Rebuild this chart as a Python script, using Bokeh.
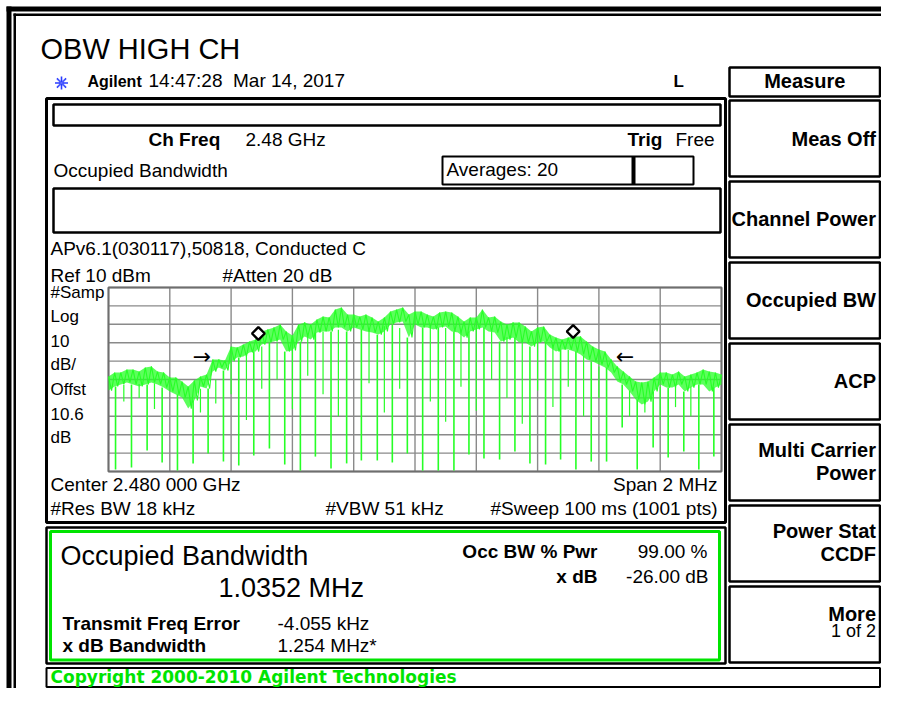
import numpy as np
from bokeh.plotting import figure
from bokeh.models import Range1d
from bokeh.core.properties import value
from bokeh.embed import file_html
from bokeh.resources import INLINE

CENTER_MHZ = 2480.0
SPAN_MHZ = 2.0
REF_DBM = 10.0
DB_PER_DIV = 10.0
N_DIV = 10

# sweep grid of the (decimated) trace, one value pair every 0.02 MHz
trace_freq_mhz = np.linspace(CENTER_MHZ - SPAN_MHZ / 2, CENTER_MHZ + SPAN_MHZ / 2, 101)
trace_hi_dbm = [
    -38.4, -36.2, -36.2, -34.6, -34.6, -35.7, -33.5, -32.9, -35.7, -36.2,
    -38.9, -38.9, -41.1, -43.8, -40.5, -38.4, -37.3, -29.1, -29.1, -29.7,
    -22.1, -22.6, -21.0, -19.4, -18.3, -13.9, -12.8, -11.7, -10.1, -13.9,
    -16.1, -10.1, -9.0, -10.1, -7.4, -5.8, -6.3, -2.0, -0.9, -4.7,
    -4.7, -5.8, -4.7, -6.3, -8.5, -6.3, -3.1, -2.0, -0.9, -4.7,
    -3.1, -3.1, -4.7, -5.8, -3.6, -3.1, -3.6, -5.8, -8.5, -6.3,
    -6.3, -2.0, -6.3, -5.8, -8.5, -10.1, -9.0, -9.0, -11.2, -13.9,
    -11.7, -11.2, -15.6, -17.2, -18.3, -17.2, -16.6, -16.6, -19.4, -22.1,
    -23.7, -24.8, -29.1, -32.9, -35.7, -38.4, -41.1, -41.6, -41.1, -38.9,
    -36.2, -36.2, -37.3, -35.7, -38.4, -37.3, -36.2, -34.6, -35.7, -36.2,
    -37.3]
trace_lo_dbm = [
    -46.0, -43.8, -42.7, -41.6, -42.7, -43.8, -42.7, -41.6, -42.7, -44.4,
    -46.5, -48.2, -49.8, -55.8, -51.4, -43.8, -44.9, -35.7, -33.5, -35.1,
    -30.2, -28.0, -27.5, -25.3, -24.8, -21.0, -19.9, -19.4, -18.3, -24.8,
    -24.2, -19.4, -16.6, -18.3, -14.5, -13.9, -13.9, -11.7, -11.7, -13.9,
    -11.7, -12.8, -13.9, -14.5, -15.6, -13.9, -10.1, -9.0, -8.5, -17.2,
    -10.1, -11.7, -11.7, -12.8, -11.7, -11.2, -13.9, -14.5, -17.2, -13.9,
    -12.8, -11.7, -13.9, -14.5, -19.4, -18.3, -17.2, -19.9, -19.9, -22.1,
    -19.9, -19.4, -22.6, -24.8, -23.7, -23.7, -24.8, -26.4, -29.1, -30.2,
    -31.9, -33.5, -36.2, -41.1, -42.7, -46.5, -50.9, -53.6, -52.0, -46.5,
    -42.7, -44.4, -44.4, -42.7, -46.5, -44.4, -42.7, -42.7, -46.5, -44.4,
    -42.7]

# deep notches of the trace
dip_freq_mhz = [
    2479.023, 2479.075, 2479.126, 2479.175, 2479.225, 2479.276, 2479.325, 2479.375, 2479.425, 2479.474,
    2479.525, 2479.575, 2479.626, 2479.675, 2479.726, 2479.777, 2479.825, 2479.877, 2479.926, 2479.975,
    2480.025, 2480.076, 2480.127, 2480.176, 2480.225, 2480.276, 2480.326, 2480.375, 2480.426, 2480.475,
    2480.525, 2480.575, 2480.625, 2480.676, 2480.725, 2480.777, 2480.826, 2480.877, 2480.926, 2480.975]
dip_top_dbm = [
    -43.8, -42.7, -42.7, -44.4, -48.2, -51.4, -44.9, -35.1, -28.0, -24.8,
    -19.9, -24.8, -19.4, -14.5, -13.9, -13.9, -12.8, -15.6, -10.1, -17.2,
    -11.7, -11.7, -13.9, -13.9, -11.7, -19.4, -17.2, -22.1, -19.4, -23.7,
    -24.8, -30.2, -33.5, -42.7, -50.9, -46.5, -44.4, -46.5, -42.7, -44.4]
dip_bottom_dbm = [
    -88.9, -87.8, -78.6, -85.1, -89.5, -85.6, -80.2, -84.6, -86.8, -81.3,
    -77.5, -86.2, -89.5, -81.9, -88.4, -85.6, -84.0, -84.0, -85.1, -80.2,
    -89.5, -89.5, -89.5, -80.8, -82.9, -83.5, -79.1, -85.6, -86.2, -83.5,
    -88.9, -84.6, -84.6, -66.1, -88.9, -77.0, -82.4, -79.1, -88.9, -81.9]

# shallower notches between the deep ones
sdip_freq_mhz = [
    2479.050, 2479.100, 2479.150, 2479.300, 2479.350, 2479.400, 2479.450, 2479.500,
    2479.550, 2479.600, 2479.650, 2479.700, 2479.750, 2479.850, 2479.900, 2479.950,
    2480.050, 2480.100, 2480.150, 2480.200, 2480.250, 2480.300, 2480.350, 2480.400,
    2480.450, 2480.500, 2480.550, 2480.600, 2480.700, 2480.750, 2480.800, 2480.850, 2480.900]
sdip_top_dbm = [
    -43.0, -42.5, -42.0, -45.0, -40.0, -30.0, -26.0, -22.0,
    -20.0, -18.0, -15.0, -14.0, -13.0, -13.0, -11.0, -12.0,
    -11.0, -12.0, -13.0, -12.0, -14.0, -17.0, -19.0, -19.0,
    -22.0, -24.0, -27.0, -33.0, -46.0, -50.0, -44.0, -44.0, -44.0]
sdip_bottom_dbm = [
    -52.0, -50.0, -56.0, -58.0, -53.0, -48.0, -62.0, -45.0,
    -40.0, -56.0, -38.0, -48.0, -60.0, -42.0, -58.0, -45.0,
    -52.0, -63.0, -44.0, -57.0, -40.0, -50.0, -64.0, -46.0,
    -55.0, -44.0, -60.0, -50.0, -60.0, -58.0, -62.0, -55.0, -60.0]

obw_marker_freq_mhz = [2479.489, 2480.516]
obw_marker_dbm = [-15.0, -13.9]
xdb_arrow_freq_mhz = [2479.305, 2480.685]
xdb_arrow_dbm = [-27.3, -27.3]
xdb_arrow_text = ["\u2192", "\u2190"]

# ---------------- page geometry ----------------
W, H = 881, 688
OX, OY = 0, 0            # data coords == picture pixels
GX0, GX1, GY0, GY1 = 108, 721, 287, 471   # graticule box
KR = 879.5               # right edge of the soft-key column

p = figure(width=W, height=H, output_backend="svg", toolbar_location=None,
           x_range=Range1d(OX, OX + W), y_range=Range1d(OY + H, OY),
           x_axis_type=None, y_axis_type=None, min_border=0)
p.grid.visible = False
p.outline_line_color = None
p.background_fill_color = "white"
p.border_fill_color = "white"

f0 = CENTER_MHZ - SPAN_MHZ / 2
f1 = CENTER_MHZ + SPAN_MHZ / 2
mhz_px = (f1 - f0) / (GX1 - GX0)
db_bot = REF_DBM - N_DIV * DB_PER_DIV
db_px = (REF_DBM - db_bot) / (GY1 - GY0)
p.extra_x_ranges = {"freq": Range1d(f0 - (GX0 - OX) * mhz_px, f1 + (OX + W - GX1) * mhz_px)}
p.extra_y_ranges = {"db": Range1d(db_bot - (OY + H - GY1) * db_px, REF_DBM + (GY0 - OY) * db_px)}
R = dict(x_range_name="freq", y_range_name="db")

SANS = value("Liberation Sans")
GREEN = "#00e400"
TRACE = "#26ff26"


def box(l, t, r, b, color="black", lw=2.5, fill=None):
    p.quad(left=[l], right=[r], top=[t], bottom=[b], fill_color=fill,
           line_color=color, line_width=lw)


def label(x, y, s, size=19, bold=False, align="left", color="black", font=SANS):
    # y is the text's baseline; place by the middle of its line box
    p.text(x=[x], y=[y - 0.346 * size], text=[s], text_font=font, text_font_size=f"{size}px",
           text_font_style="bold" if bold else "normal", text_align=align,
           text_baseline="middle", text_color=color)


# outer frame
p.quad(left=[6], right=[11], top=[6], bottom=[704], fill_color="black", line_color=None)
p.quad(left=[6], right=[897], top=[6], bottom=[11], fill_color="black", line_color=None)
p.quad(left=[13], right=[15.5], top=[13], bottom=[704], fill_color="black", line_color=None)
p.quad(left=[13], right=[897], top=[13], bottom=[15.5], fill_color="black", line_color=None)

# header
label(40, 59, "OBW HIGH CH", size=29)
p.scatter(x=[61], y=[82.5], marker="asterisk", size=13, line_color="#2a3cff", line_width=1.6)
p.scatter(x=[61], y=[82.5], marker="x", size=10, line_color="#6f7dff", line_width=1)
label(87, 87, "Agilent", size=16, bold=True)
label(148, 87, "14:47:28\u00a0 Mar 14, 2017", size=19)
label(673, 87, "L", size=17, bold=True)

# soft keys
box(729, 67, KR, 96)
label((729 + KR) / 2, 87, "Measure", size=20, bold=True, align="center")
key_tops = [100, 181, 262, 343, 424, 505, 586]
for t in key_tops:
    box(729, t, KR, t + 76)
TX = KR - 4
label(TX, 145, "Meas Off", size=20, bold=True, align="right")
label(TX, 225, "Channel Power", size=20, bold=True, align="right")
label(TX, 306, "Occupied BW", size=20, bold=True, align="right")
label(TX, 387, "ACP", size=20, bold=True, align="right")
label(TX, 456, "Multi Carrier", size=20, bold=True, align="right")
label(TX, 479, "Power", size=20, bold=True, align="right")
label(TX, 537, "Power Stat", size=20, bold=True, align="right")
label(TX, 560, "CCDF", size=20, bold=True, align="right")
label(TX, 620, "More", size=20, bold=True, align="right")
label(TX, 637, "1 of 2", size=18, align="right")

# main panel
box(46, 98, 725, 522, lw=3)
box(53, 104, 720, 125)
box(53, 188, 720, 232)
box(442, 156, 693, 184, lw=2)
p.segment(x0=[633], y0=[156], x1=[633], y1=[184], line_color="black", line_width=4)
label(148, 146, "Ch Freq", bold=True)
label(245, 146, "2.48 GHz")
label(627, 146, "Trig", bold=True)
label(675, 146, "Free")
label(53, 177, "Occupied Bandwidth")
label(446, 176, "Averages: 20")
label(50, 255, "APv6.1(030117),50818, Conducted C")
label(50, 282, "Ref 10 dBm")
label(222, 282, "#Atten 20 dB")
for yy, s in zip([298, 322, 346, 370, 395, 419, 443],
                 ["#Samp", "Log", "10", "dB/", "Offst", "10.6", "dB"]):
    label(50, yy, s, size=17)
label(50, 491, "Center 2.480 000 GHz")
label(717, 491, "Span 2 MHz", align="right")
label(50, 515, "#Res BW 18 kHz")
label(325, 515, "#VBW 51 kHz")
label(717, 515, "#Sweep 100 ms (1001 pts)", align="right")

# graticule (drawn in frequency / dBm coordinates)
vx = np.linspace(f0, f1, N_DIV + 1)
hy = np.linspace(db_bot, REF_DBM, N_DIV + 1)
p.segment(x0=vx, y0=[db_bot] * len(vx), x1=vx, y1=[REF_DBM] * len(vx),
          line_color="#8a8a8a", line_width=1.4, **R)
p.segment(x0=[f0] * len(hy), y0=hy, x1=[f1] * len(hy), y1=hy,
          line_color="#8a8a8a", line_width=1.4, **R)
p.quad(left=[f0], right=[f1], bottom=[db_bot], top=[REF_DBM], fill_color=None,
       line_color="#6e6e6e", line_width=2, **R)

# trace: noisy band drawn as a zig-zag between its upper and lower readings
half = (trace_freq_mhz[1] - trace_freq_mhz[0]) / 2
zx = np.ravel(np.column_stack([trace_freq_mhz, trace_freq_mhz + half]))[:-1]
zy = np.ravel(np.column_stack([trace_hi_dbm, trace_lo_dbm]))[:-1]
p.varea(x=trace_freq_mhz, y1=trace_lo_dbm, y2=trace_hi_dbm, fill_color=TRACE, fill_alpha=0.75, **R)
p.line(x=zx, y=zy, line_color=TRACE, line_width=1.1, **R)
p.segment(x0=sdip_freq_mhz, y0=sdip_top_dbm, x1=sdip_freq_mhz, y1=sdip_bottom_dbm,
          line_color=TRACE, line_width=1.2, **R)
p.segment(x0=dip_freq_mhz, y0=dip_top_dbm, x1=dip_freq_mhz, y1=dip_bottom_dbm,
          line_color=TRACE, line_width=1.6, **R)

# OBW markers and x-dB arrows
p.scatter(x=obw_marker_freq_mhz, y=obw_marker_dbm, marker="square", angle=np.pi / 4, size=9,
          fill_color="white", line_color="black", line_width=2.4, **R)
p.text(x=xdb_arrow_freq_mhz, y=xdb_arrow_dbm, text=xdb_arrow_text, text_font=value("DejaVu Sans"),
       text_font_size="22px", text_align="center", text_baseline="middle", text_color="black", **R)

# result panel
box(46, 527, 725, 663)
box(50, 531, 719, 659.5, color=GREEN, lw=3)
label(60, 565, "Occupied Bandwidth", size=27)
label(218, 597, "1.0352 MHz", size=27)
label(62, 630, "Transmit Freq Error", bold=True)
label(277, 630, "-4.055 kHz")
label(62, 652, "x dB Bandwidth", bold=True)
label(277, 652, "1.254 MHz*")
label(597, 558, "Occ BW % Pwr", bold=True, align="right")
label(707, 558, "99.00 %", align="right")
label(597, 583, "x dB", bold=True, align="right")
label(708, 583, "-26.00 dB", align="right")

# copyright bar
box(46, 667.5, KR, 686.5, lw=2)
label(50, 682, "Copyright 2000-2010 Agilent Technologies", size=17, bold=True, color=GREEN,
      font=value("DejaVu Sans"))

open("out.html", "w").write(file_html(p, INLINE))
